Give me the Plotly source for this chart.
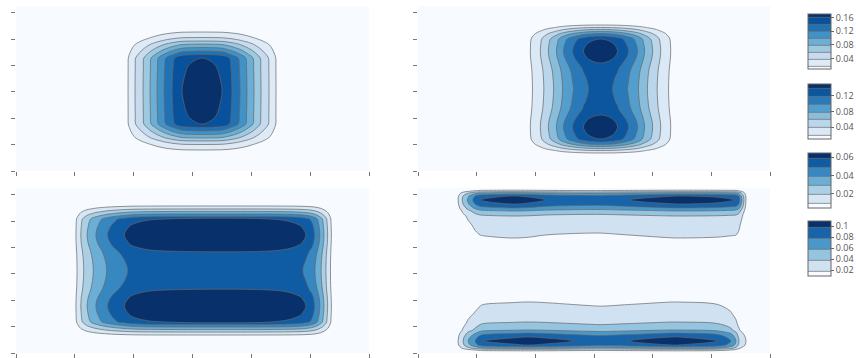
import numpy as np
import plotly.graph_objects as go

# ---------------- data (profiles) ----------------
# Panel 1 (top-left)
p1_x = [0, 1.768, 1.836, 1.904, 2.023, 2.159, 2.278, 2.397, 2.516, 2.652, 2.822, 2.992, 3.162,
        3.332, 3.502, 3.672, 3.808, 3.927, 4.046, 4.165, 4.301, 4.420, 4.488, 4.556, 6]
p1_fx = [0, 0, 0.05, 0.120, 0.241, 0.361, 0.482, 0.602, 0.723, 0.843, 0.964, 0.99, 1.0,
         0.99, 0.964, 0.843, 0.723, 0.602, 0.482, 0.361, 0.241, 0.120, 0.05, 0, 0]
p1_y = [0, 0.568, 0.682, 0.795, 1.003, 1.136, 1.250, 1.382, 1.515, 1.647, 1.780, 2.121, 2.575, 3.030,
        3.485, 3.939, 4.280, 4.413, 4.545, 4.678, 4.810, 4.924, 5.057, 5.265, 5.378, 5.492, 6.25]
p1_gy = [0, 0, 0.05, 0.120, 0.241, 0.361, 0.482, 0.602, 0.723, 0.843, 0.964, 0.985, 0.995, 1.0,
         0.995, 0.985, 0.964, 0.843, 0.723, 0.602, 0.482, 0.361, 0.241, 0.120, 0.05, 0, 0]
p1_peak = 0.166

# Panel 2 (top-right)
p2_x = [0, 1.778, 1.846, 1.914, 2.085, 2.222, 2.359, 2.479, 2.632, 2.820, 2.906, 3.008, 3.111,
        3.214, 3.316, 3.402, 3.590, 3.743, 3.863, 4.000, 4.137, 4.308, 4.376, 4.444, 6]
p2_fx = [0, 0, 0.05, 0.132, 0.263, 0.395, 0.526, 0.658, 0.789, 0.921, 0.963, 0.99, 1.0,
         0.99, 0.963, 0.921, 0.789, 0.658, 0.526, 0.395, 0.263, 0.132, 0.05, 0, 0]
p2_y = [0, 0.530, 0.606, 0.682, 0.776, 0.852, 0.928, 1.004, 1.098, 1.212, 1.439, 1.667, 1.894, 2.121,
        2.348, 2.651, 3.106, 3.561, 3.864, 4.091, 4.318, 4.545, 4.773, 5.000, 5.114, 5.208, 5.284,
        5.360, 5.436, 5.530, 5.606, 5.682, 6.25]
p2_gy = [0, 0, 0.05, 0.132, 0.263, 0.395, 0.526, 0.658, 0.789, 0.921, 0.975, 1.0, 0.975, 0.921,
         0.87, 0.84, 0.82, 0.84, 0.87, 0.921, 0.975, 1.0, 0.975, 0.921, 0.789, 0.658, 0.526,
         0.395, 0.263, 0.132, 0.05, 0, 0]
p2_peak = 0.152

# Panel 3 (bottom-left)
p3_x = [0, 0.918, 0.969, 1.020, 1.105, 1.207, 1.360, 1.547, 1.700, 1.836, 1.972, 2.193, 2.533,
        4.318, 4.658, 4.828, 4.929, 5.031, 5.133, 5.218, 5.286, 5.354, 5.405, 5.456, 6]
p3_fx = [0, 0, 0.06, 0.15, 0.30, 0.44, 0.59, 0.73, 0.82, 0.88, 0.94, 0.98, 1.0,
         1.0, 0.97, 0.93, 0.882, 0.80, 0.65, 0.48, 0.32, 0.16, 0.06, 0, 0]
p3_y = [0, 0.549, 0.606, 0.682, 0.795, 0.890, 0.985, 1.080, 1.174, 1.458, 1.780, 2.102, 2.386, 2.746,
        3.125,
        3.504, 3.864, 4.148, 4.470, 4.792, 5.076, 5.170, 5.265, 5.360, 5.455, 5.568, 5.644, 5.701, 6.25]
p3_gy = [0, 0, 0.06, 0.147, 0.294, 0.441, 0.588, 0.735, 0.882, 0.96, 1.0, 0.96, 0.882, 0.83,
         0.81,
         0.83, 0.882, 0.96, 1.0, 0.96, 0.882, 0.735, 0.588, 0.441, 0.294, 0.147, 0.06, 0, 0]
p3_peak = 0.068

# Panel 4 (bottom-right): bottom band + top band
p4_x = [0, 0.547, 0.632, 0.684, 0.769, 0.855, 0.974, 1.060, 1.111, 1.607, 1.880, 2.171, 2.650,
        2.940, 3.111, 3.590, 4.342, 4.479, 5.111, 5.333, 5.419, 5.470, 5.521, 5.590, 5.641, 5.709, 6]
p4_fx_bottom = [0, 0, 0.08, 0.182, 0.364, 0.545, 0.727, 0.86, 0.909, 0.975, 1.0, 0.975, 0.909,
                0.875, 0.86, 0.909, 1.0, 0.995, 0.909, 0.727, 0.545, 0.364, 0.27, 0.182, 0.08, 0, 0]
p4_fx_top = [0, 0, 0.08, 0.182, 0.40, 0.58, 0.80, 0.909, 0.93, 1.0, 0.975, 0.909, 0.87,
             0.86, 0.86, 0.909, 0.995, 1.0, 0.97, 0.93, 0.909, 0.80, 0.55, 0.182, 0.08, 0, 0]
p4_y = [0, 0.114, 0.189, 0.303, 0.455, 0.606, 0.758, 0.871, 1.174, 1.515, 1.932, 2.386, 2.765, 3.1,
        3.447, 3.826, 4.356, 4.848, 5.189, 5.379, 5.492, 5.644, 5.795, 5.947, 6.061, 6.136, 6.25]
p4_gy_bottom = [0, 0.25, 0.6, 0.909, 1.0, 0.909, 0.727, 0.545, 0.364, 0.26, 0.182, 0.10, 0.04, 0,
                0, 0, 0, 0, 0, 0, 0, 0, 0, 0, 0, 0, 0]
p4_gy_top = [0, 0, 0, 0, 0, 0, 0, 0, 0, 0, 0, 0, 0, 0,
             0.04, 0.10, 0.182, 0.26, 0.364, 0.545, 0.727, 0.909, 1.0, 0.909, 0.6, 0.25, 0]
p4_peak = 0.11

levels = [dict(start=0.02, end=0.16, size=0.02),
          dict(start=0.02, end=0.14, size=0.02),
          dict(start=0.01, end=0.06, size=0.01),
          dict(start=0.02, end=0.10, size=0.02)]
cbar_dticks = [0.04, 0.04, 0.02, 0.02]

# ---------------- build fields ----------------
z1 = p1_peak * np.outer(p1_gy, p1_fx)
z2 = p2_peak * np.outer(p2_gy, p2_fx)
z3 = p3_peak * np.outer(p3_gy, p3_fx)
z4 = p4_peak * (np.outer(p4_gy_bottom, p4_fx_bottom) + np.outer(p4_gy_top, p4_fx_top))

blues = [[0.0, 'rgb(247,251,255)'], [0.125, 'rgb(222,235,247)'], [0.25, 'rgb(198,219,239)'],
         [0.375, 'rgb(158,202,225)'], [0.5, 'rgb(107,174,214)'], [0.625, 'rgb(66,146,198)'],
         [0.75, 'rgb(33,113,181)'], [0.875, 'rgb(8,81,156)'], [1.0, 'rgb(8,48,107)']]

W, H = 856, 358
ml, mr, mt, mb = 16, 86, 6, 5
pw, ph = W - ml - mr, H - mt - mb

cb_centers = [41.5, 111.5, 180, 248]
panels = [(p1_x, p1_y, z1), (p2_x, p2_y, z2), (p3_x, p3_y, z3), (p4_x, p4_y, z4)]

fig = go.Figure()
for i, (xs, ys, z) in enumerate(panels):
    ax = '' if i == 0 else str(i + 1)
    fig.add_trace(go.Contour(
        x=xs, y=ys, z=z,
        xaxis='x' + ax, yaxis='y' + ax,
        colorscale=blues,
        contours=dict(coloring='fill', **levels[i]),
        line=dict(color='#666', width=0.7, smoothing=1.0),
        colorbar=dict(
            x=(808 - ml) / pw, xanchor='left', xpad=0,
            y=(H - mb - cb_centers[i]) / ph, yanchor='middle', ypad=0,
            lenmode='pixels', len=55, thickness=23,
            outlinewidth=1, outlinecolor='#666',
            ticks='outside', ticklen=3, tickcolor='#666',
            dtick=cbar_dticks[i], tick0=0,
            tickfont=dict(family='Open Sans', size=9, color='#555'),
        ),
        hoverinfo='skip',
    ))

xl = [0, (369 - ml) / pw]
xr = [(418 - ml) / pw, 1.0]
yt = [(H - mb - 171) / ph, 1.0]
yb = [0, (H - mb - 188) / ph]

axis_common = dict(showticklabels=False, ticks='outside', ticklen=4, tickcolor='#777', tickwidth=1,
                   showgrid=False, zeroline=False, showline=False, tick0=0, dtick=1)

fig.update_layout(
    width=W, height=H,
    margin=dict(l=ml, r=mr, t=mt, b=mb, autoexpand=False),
    paper_bgcolor='white', plot_bgcolor='white',
    showlegend=False,
    xaxis=dict(domain=xl, anchor='y', range=[0, 6], **axis_common),
    yaxis=dict(domain=yt, anchor='x', range=[0, 6.25], **axis_common),
    xaxis2=dict(domain=xr, anchor='y2', range=[0, 6], **axis_common),
    yaxis2=dict(domain=yt, anchor='x2', range=[0, 6.25], **axis_common),
    xaxis3=dict(domain=xl, anchor='y3', range=[0, 6], **axis_common),
    yaxis3=dict(domain=yb, anchor='x3', range=[0, 6.25], **axis_common),
    xaxis4=dict(domain=xr, anchor='y4', range=[0, 6], **axis_common),
    yaxis4=dict(domain=yb, anchor='x4', range=[0, 6.25], **axis_common),
)

fig.write_html("out.html", config={'displayModeBar': False},
               post_script="document.body.style.margin='0';")
